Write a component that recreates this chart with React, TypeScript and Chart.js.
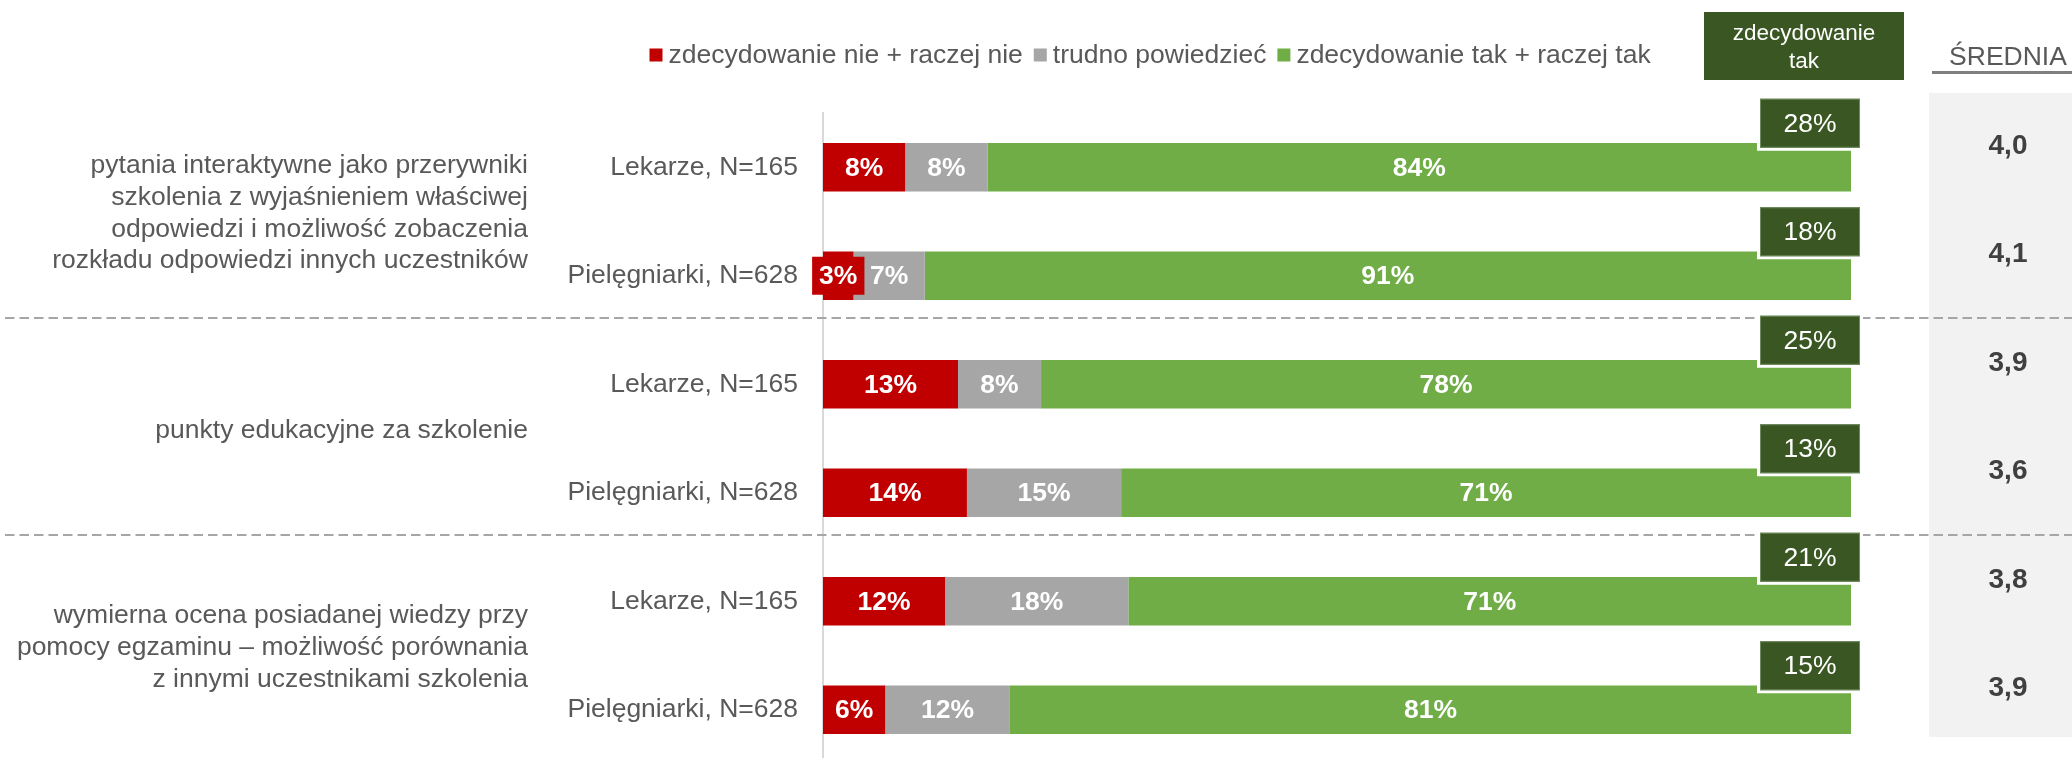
import React, { useEffect, useRef } from 'react';
import { Chart, registerables } from 'chart.js';

Chart.register(...registerables);

const rowLabels = [
  'Lekarze, N=165',
  'Pielęgniarki, N=628',
  'Lekarze, N=165',
  'Pielęgniarki, N=628',
  'Lekarze, N=165',
  'Pielęgniarki, N=628',
];
const groupLabels = [
  ['pytania interaktywne jako przerywniki', 'szkolenia z wyjaśnieniem właściwej', 'odpowiedzi i możliwość zobaczenia', 'rozkładu odpowiedzi innych uczestników'],
  ['punkty edukacyjne za szkolenie'],
  ['wymierna ocena posiadanej wiedzy przy', 'pomocy egzaminu – możliwość porównania', 'z innymi uczestnikami szkolenia'],
];
const seriesNames = ['zdecydowanie nie + raczej nie', 'trudno powiedzieć', 'zdecydowanie tak + raczej tak'];
const negative = [8, 3, 13, 14, 12, 6];
const neutral = [8, 7, 8, 15, 18, 12];
const positive = [84, 91, 78, 71, 71, 81];
const definitelyYes = [28, 18, 25, 13, 21, 15];
const means = [4.0, 4.1, 3.9, 3.6, 3.8, 3.9];
const seriesColors = ['#c00000', '#a6a6a6', '#70ad47'];
const headerBoxText = ['zdecydowanie', 'tak'];
const meanHeader = 'ŚREDNIA';

const FONT = "'Liberation Sans', Arial, sans-serif";
const TEXT = '#595959';
const DARK_GREEN = '#3a5723';
const FS = 26.5;

const raw = [negative, neutral, positive];
const totals = negative.map((_, i) => negative[i] + neutral[i] + positive[i]);

const overlay = {
  id: 'overlay',
  beforeDatasetsDraw(chart: any) {
    const ctx = chart.ctx;
    const yScale = chart.scales.y;
    const W = chart.width;
    ctx.save();
    // gray panel for means
    ctx.fillStyle = '#f2f2f2';
    ctx.fillRect(1929, 93, W - 1929, 644);
    // dashed separators between groups
    ctx.strokeStyle = '#a6a6a6';
    ctx.lineWidth = 2;
    ctx.setLineDash([9.5, 5]);
    for (let g = 1; g < groupLabels.length; g++) {
      const a = yScale.getPixelForValue(g * 2 - 1);
      const b = yScale.getPixelForValue(g * 2);
      const y = Math.round(a + (b - a) * 0.39);
      ctx.beginPath();
      ctx.moveTo(5, y);
      ctx.lineTo(W, y);
      ctx.stroke();
    }
    ctx.setLineDash([]);
    ctx.restore();
  },
  afterDatasetsDraw(chart: any) {
    const ctx = chart.ctx;
    const area = chart.chartArea;
    const yScale = chart.scales.y;
    ctx.save();
    // segment labels
    ctx.font = `bold ${FS}px ${FONT}`;
    ctx.textAlign = 'center';
    ctx.textBaseline = 'middle';
    raw.forEach((vals, di) => {
      const meta = chart.getDatasetMeta(di);
      meta.data.forEach((el: any, j: number) => {
        const txt = `${vals[j]}%`;
        const cx = (el.x + el.base) / 2;
        const w = Math.abs(el.x - el.base);
        const tw = ctx.measureText(txt).width;
        if (w < tw + 8) {
          ctx.fillStyle = seriesColors[di];
          ctx.fillRect(cx - tw / 2 - 7, el.y - 19, tw + 14, 38);
        }
        ctx.fillStyle = '#ffffff';
        ctx.fillText(txt, cx, el.y + 1);
      });
    });
    // "definitely yes" boxes
    const meta2 = chart.getDatasetMeta(2);
    ctx.font = `${FS}px ${FONT}`;
    meta2.data.forEach((el: any, j: number) => {
      const cx = area.right - 41;
      const cy = el.y - 44;
      const bw = 100, bh = 49;
      ctx.fillStyle = '#ffffff';
      ctx.fillRect(cx - bw / 2 - 3, cy - bh / 2 - 3, bw + 6, bh + 6);
      ctx.fillStyle = DARK_GREEN;
      ctx.fillRect(cx - bw / 2, cy - bh / 2, bw, bh);
      ctx.strokeStyle = '#6e8a5e';
      ctx.lineWidth = 1;
      ctx.strokeRect(cx - bw / 2 + 0.5, cy - bh / 2 + 0.5, bw - 1, bh - 1);
      ctx.fillStyle = '#ffffff';
      ctx.fillText(`${definitelyYes[j]}%`, cx, cy + 1);
    });
    // means
    ctx.font = `bold 28px ${FONT}`;
    ctx.fillStyle = '#404040';
    meta2.data.forEach((el: any, j: number) => {
      ctx.fillText(means[j].toFixed(1).replace('.', ','), 2008, el.y - 21);
    });
    // group labels
    ctx.font = `${FS}px ${FONT}`;
    ctx.fillStyle = TEXT;
    ctx.textAlign = 'right';
    const lh = 31.7;
    groupLabels.forEach((lines, g) => {
      const mid = (yScale.getPixelForValue(g * 2) + yScale.getPixelForValue(g * 2 + 1)) / 2 - 8;
      lines.forEach((ln, k) => {
        ctx.fillText(ln, 528, mid + (k - (lines.length - 1) / 2) * lh);
      });
    });
    // legend
    ctx.textAlign = 'left';
    let x = 649.5;
    const ly = 55;
    seriesNames.forEach((name, i) => {
      ctx.fillStyle = seriesColors[i];
      ctx.fillRect(x, ly - 6.5, 13, 13);
      x += 13 + 6;
      ctx.fillStyle = TEXT;
      ctx.fillText(name, x, ly + 1);
      x += ctx.measureText(name).width + 11;
    });
    // header box
    ctx.fillStyle = DARK_GREEN;
    ctx.fillRect(1704, 12, 200, 68);
    ctx.fillStyle = '#ffffff';
    ctx.textAlign = 'center';
    ctx.font = `22.5px ${FONT}`;
    ctx.fillText(headerBoxText[0], 1804, 34);
    ctx.fillText(headerBoxText[1], 1804, 62);
    // mean header
    ctx.font = `${FS}px ${FONT}`;
    ctx.fillStyle = TEXT;
    ctx.fillText(meanHeader, 2008, 58);
    ctx.fillStyle = '#7f7f7f';
    ctx.fillRect(1932, 71, chart.width - 1932, 3);
    ctx.restore();
  },
};

export default function App() {
  const ref = useRef<HTMLCanvasElement | null>(null);
  useEffect(() => {
    document.body.style.margin = '0';
    document.body.style.overflow = 'hidden';
    const canvas = ref.current!;
    const chart = new Chart(canvas, {
      type: 'bar',
      data: {
        labels: rowLabels,
        datasets: raw.map((vals, i) => ({
          label: seriesNames[i],
          data: vals.map((v, j) => (v / totals[j]) * 100),
          backgroundColor: seriesColors[i],
          borderWidth: 0,
          barPercentage: 0.447,
          categoryPercentage: 1,
        })),
      },
      options: {
        indexAxis: 'y',
        responsive: false,
        animation: false,
        devicePixelRatio: 1,
        layout: { padding: { top: 113, right: 221, bottom: 0, left: 0 } },
        plugins: { legend: { display: false }, tooltip: { enabled: false } },
        scales: {
          x: { stacked: true, display: false, min: 0, max: 100 },
          y: {
            stacked: true,
            afterFit: (s: any) => {
              s.width = 823;
              s.paddingTop = 0;
              s.paddingBottom = 0;
            },
            grid: { display: false, drawTicks: false },
            border: { display: true, color: '#d9d9d9', width: 2 },
            ticks: { color: TEXT, font: { family: FONT, size: FS }, padding: 25 },
          },
        },
      },
      plugins: [overlay],
    });
    return () => chart.destroy();
  }, []);
  return <canvas ref={ref} width={2072} height={764} style={{ display: 'block', width: 2072, height: 764 }} />;
}
